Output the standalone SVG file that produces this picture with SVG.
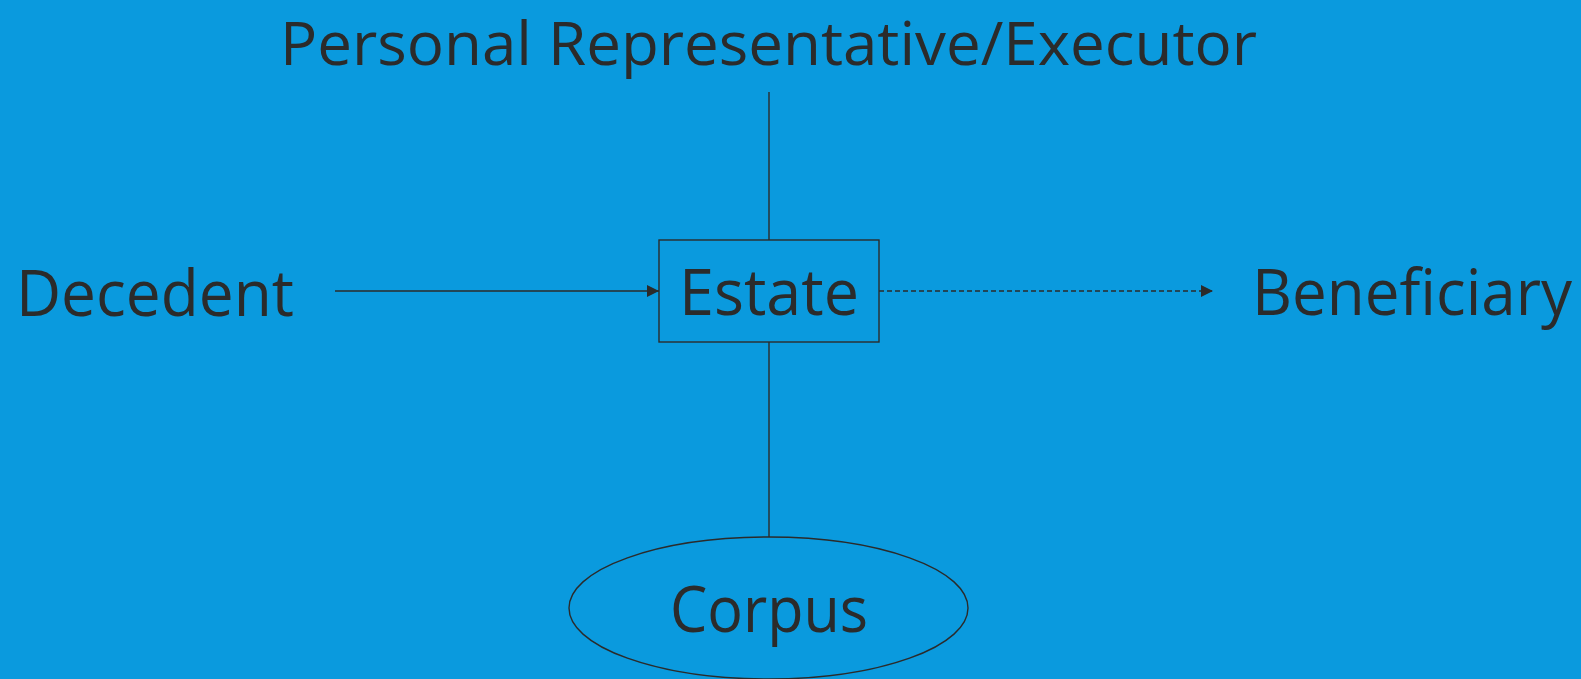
<svg xmlns="http://www.w3.org/2000/svg" width="1581" height="679" viewBox="0 0 1581 679">
<defs>
<style>
.t{font-family:"Open Sans","Liberation Sans",sans-serif;font-size:64px;fill:#2b2b2b}
.ln{stroke:#2b2b2b;stroke-width:1.4;fill:none}
</style>
<marker id="ah" viewBox="0 0 10 10" refX="10" refY="5" markerWidth="12" markerHeight="12" markerUnits="userSpaceOnUse" orient="auto"><path d="M0,0 L10,5 L0,10 Z" fill="#2b2b2b"/></marker>
</defs>
<rect width="1581" height="679" fill="#0a9ade"/>
<g id="connectors">
<line class="ln" x1="769" y1="92" x2="769" y2="240"/>
<line class="ln" x1="769" y1="342" x2="769" y2="537"/>
<line class="ln" x1="335" y1="291" x2="659" y2="291" marker-end="url(#ah)"/>
<line class="ln" x1="879" y1="291" x2="1213" y2="291" stroke-dasharray="5,3" marker-end="url(#ah)"/>
</g>
<g id="executor"><text class="t" x="280" y="65" style="font-size:61px" textLength="977" lengthAdjust="spacingAndGlyphs">Personal Representative/Executor</text></g>
<g id="decedent"><text class="t" x="16" y="316" textLength="278" lengthAdjust="spacingAndGlyphs">Decedent</text></g>
<g id="estate"><rect class="ln" x="659" y="240" width="220" height="102"/><text class="t" x="679" y="315" textLength="180" lengthAdjust="spacingAndGlyphs">Estate</text></g>
<g id="beneficiary"><text class="t" x="1252" y="315" textLength="320" lengthAdjust="spacingAndGlyphs">Beneficiary</text></g>
<g id="corpus"><ellipse class="ln" cx="768.5" cy="608" rx="199.5" ry="71"/><text class="t" x="670" y="632" textLength="198" lengthAdjust="spacingAndGlyphs">Corpus</text></g>
</svg>
